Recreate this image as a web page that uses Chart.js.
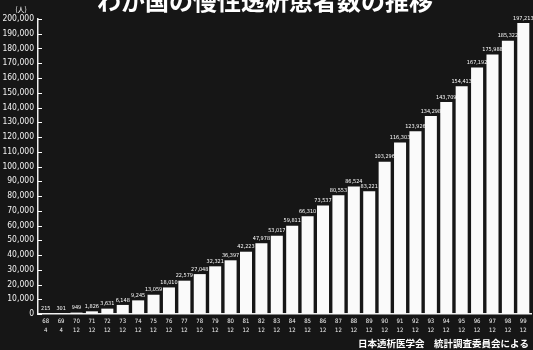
<!DOCTYPE html>
<html lang="ja">
<head>
<meta charset="UTF-8">
<script src="https://cdn.jsdelivr.net/npm/chart.js"></script>
<title>わが国の慢性透析患者数の推移</title>
<style>
  html, body { margin: 0; padding: 0; background: #161616; }
  canvas { display: block; }
</style>
</head>
<body>
<canvas id="grafico" width="533" height="350"></canvas>
<script>
// 年 / 月
const anos = ['68','69','70','71','72','73','74','75','76','77','78','79','80','81','82','83',
              '84','85','86','87','88','89','90','91','92','93','94','95','96','97','98','99'];
const meses = ['4','4','12','12','12','12','12','12','12','12','12','12','12','12','12','12',
               '12','12','12','12','12','12','12','12','12','12','12','12','12','12','12','12'];
// 患者数 (人)
const pacientes = [215, 301, 949, 1826, 3631, 6148, 9245, 13059, 18010, 22579, 27048, 32321,
                   36397, 42223, 47978, 53017, 59811, 66310, 73537, 80553, 86524, 83221,
                   103296, 116303, 123926, 134298, 143709, 154413, 167192, 175988, 185322, 197213];

const titulo = 'わが国の慢性透析患者数の推移';
const fonte = '日本透析医学会　統計調査委員会による';

const fmt = (v) => v.toLocaleString('en-US');
const fonteNum = '"Liberation Sans Narrow", "DejaVu Sans Condensed", sans-serif';

// textos extras desenhados por cima
const extras = {
  id: 'extras',
  afterDraw(chart) {
    const ctx = chart.ctx;
    const y = chart.scales.y;
    ctx.save();
    ctx.fillStyle = '#fff';
    ctx.strokeStyle = '#fff';

    // tracinhos do eixo (para dentro)
    ctx.lineWidth = 1;
    y.ticks.forEach((t) => {
      const py = Math.round(y.getPixelForValue(t.value)) + 0.5;
      ctx.beginPath();
      ctx.moveTo(y.right, py);
      ctx.lineTo(y.right + 4, py);
      ctx.stroke();
    });

    // valores em cima das barras
    ctx.font = '5.5px ' + fonteNum;
    ctx.textAlign = 'center';
    ctx.textBaseline = 'bottom';
    const meta = chart.getDatasetMeta(0);
    meta.data.forEach((bar, i) => {
      ctx.fillText(fmt(pacientes[i]), bar.x, bar.y - 2);
    });

    // unidade
    ctx.font = '7px "Noto Sans CJK JP", sans-serif';
    ctx.textAlign = 'center';
    ctx.textBaseline = 'middle';
    ctx.fillText('(人)', 21, 9);

    // titulo (cortado no topo)
    ctx.font = 'bold 24px "Noto Sans CJK JP", sans-serif';
    ctx.textAlign = 'center';
    ctx.textBaseline = 'middle';
    ctx.fillText(titulo, 265, 1);

    // fonte
    ctx.font = 'bold 9.5px "Noto Sans CJK JP", sans-serif';
    ctx.textAlign = 'right';
    ctx.fillText(fonte, 529, 343);
    ctx.restore();
  }
};

const config = {
  type: 'bar',
  data: {
    labels: anos.map((a, i) => [a, meses[i]]),
    datasets: [{
      label: '患者数',
      data: pacientes,
      backgroundColor: '#fafafa',
      borderWidth: 0,
      barPercentage: 0.78,
      categoryPercentage: 1.0
    }]
  },
  options: {
    responsive: false,
    animation: false,
    layout: { padding: { top: 19, right: 2, left: 0, bottom: 0 } },
    plugins: {
      legend: { display: false },
      tooltip: { enabled: false }
    },
    scales: {
      y: {
        min: 0,
        max: 200000,
        afterFit: (s) => { s.width = 38; },
        ticks: {
          stepSize: 10000,
          color: '#f2f2f2',
          padding: 4,
          font: { size: 8.5, family: fonteNum },
          callback: (v) => fmt(v)
        },
        grid: { display: false, drawTicks: false },
        border: { display: true, color: '#eee', width: 1.5 }
      },
      x: {
        afterFit: (s) => { s.height = 36; },
        ticks: {
          color: '#f2f2f2',
          maxRotation: 0,
          autoSkip: false,
          padding: 3,
          font: { size: 6, lineHeight: 1.45, family: fonteNum }
        },
        grid: { display: false, drawTicks: false },
        border: { display: true, color: '#eee', width: 1.5 }
      }
    }
  },
  plugins: [extras]
};

new Chart(document.getElementById('grafico'), config);
</script>
</body>
</html>
